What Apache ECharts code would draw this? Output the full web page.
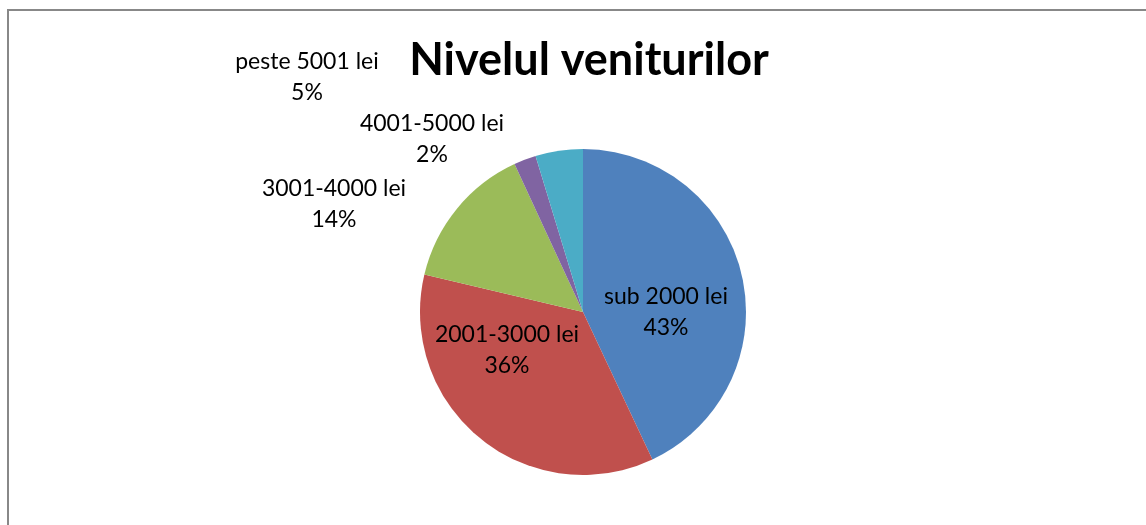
<!DOCTYPE html>
<html>
<head>
<meta charset="utf-8">
<script src="https://cdn.jsdelivr.net/npm/echarts@6/dist/echarts.min.js"></script>
<style>
html,body{margin:0;padding:0;background:#fff;}
#chart{width:1146px;height:525px;}
</style>
</head>
<body>
<div id="chart"></div>
<script>
const titleText = 'Nivelul veniturilor';
const categories = ['sub 2000 lei', '2001-3000 lei', '3001-4000 lei', '4001-5000 lei', 'peste 5001 lei'];
const values = [43, 35.7, 14.4, 2.2, 4.7];
const colors = ['#4F81BD', '#C0504D', '#9BBB59', '#8064A2', '#4BACC6'];

// label anchor points (layout only)
const labelPos = [[666, 312], [507, 350], [334, 204], [432, 139], [307, 77]];

const chart = echarts.init(document.getElementById('chart'), null, {renderer: 'canvas'});
chart.setOption({
  backgroundColor: '#fff',
  animation: false,
  title: {
    text: titleText,
    left: 584, top: 33,
    textAlign: 'center',
    textStyle: {fontFamily: 'Lato', fontWeight: 'bold', fontSize: 45, color: '#000'}
  },
  graphic: [{
    type: 'polyline',
    shape: {points: [[8, 525], [8, 10], [1146, 10]]},
    style: {stroke: '#888', lineWidth: 2, fill: null}
  }],
  series: [{
    type: 'pie',
    center: [583, 312],
    radius: 163,
    startAngle: 90,
    clockwise: true,
    percentPrecision: 0,
    data: categories.map((c, i) => ({name: c, value: values[i], itemStyle: {color: colors[i]}})),
    label: {
      show: true,
      formatter: '{b}\n{d}%',
      fontFamily: 'Lato',
      fontSize: 23,
      lineHeight: 31,
      color: '#000',
      align: 'center'
    },
    labelLine: {show: false},
    labelLayout: function (params) {
      const p = labelPos[params.dataIndex];
      return {x: p[0], y: p[1], align: 'center', verticalAlign: 'middle'};
    },
    emphasis: {disabled: true}
  }]
});
</script>
</body>
</html>
